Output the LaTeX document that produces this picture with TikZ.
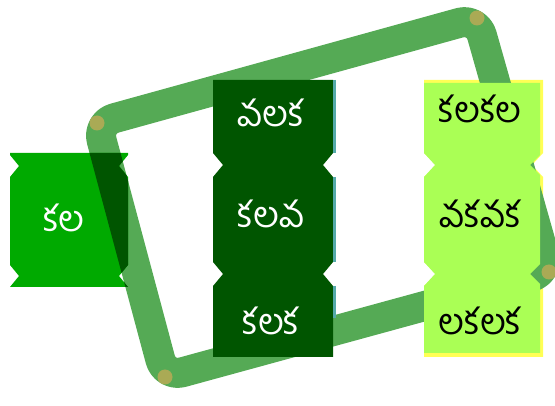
\documentclass[tikz,border=0pt]{standalone}
\usepackage{fontspec}
\newfontfamily\tel[Script=Telugu]{Hind Guntur}
\usetikzlibrary{calc}
\definecolor{loopgreen}{HTML}{55AA55}
\definecolor{dotolive}{HTML}{AAAA55}
\definecolor{leftgreen}{HTML}{00AA00}
\definecolor{darkgreen}{HTML}{005500}
\definecolor{limegreen}{HTML}{AAFF55}
\definecolor{edgeyellow}{HTML}{FFFF55}
\definecolor{edgeteal}{HTML}{55AAAA}
\newcommand\lnshape{(10,153) -- (128,153) -- (128,155) -- (119,166) -- (128,177) -- (128,265) -- (119,276) -- (128,287) -- (10,287) -- (19,276) -- (10,265) -- (10,177) -- (19,166) -- (10,155) -- cycle}
\begin{document}
\begin{tikzpicture}[x=1pt,y=-1pt,
  looppath/.style={line width=30pt, rounded corners=18pt, line join=round},
  cornerdot/.style={circle, fill=dotolive, inner sep=0pt, minimum size=15pt},
  txt/.style={font=\tel\fontsize{36}{40}\selectfont, inner sep=0pt, anchor=base},
]
\useasboundingbox (0,0) rectangle (555,406);
\coordinate (A) at (97,123);
\coordinate (B) at (477,18);
\coordinate (C) at (549,272);
\coordinate (D) at (165,377);
% yellow edge of right column (beneath the loop)
\fill[edgeyellow] (424,80) -- (543,80) -- (543,153) -- (532,165) -- (543,177) -- (543,262) -- (532,274) -- (543,286) -- (543,357) -- (424,357) -- (424,286) -- (437,274) -- (424,262) -- (424,177) -- (437,165) -- (424,153) -- cycle;
% loop
\draw[looppath, loopgreen] ($(A)!0.5!(B)$) -- (B) -- (C) -- (D) -- (A) -- cycle;
% left node
\fill[leftgreen] \lnshape;
\begin{scope}
  \clip \lnshape;
  \draw[looppath, darkgreen] ($(A)!0.5!(B)$) -- (B) -- (C) -- (D) -- (A) -- cycle;
\end{scope}
% middle column
\fill[darkgreen] (213,80) -- (333,80) -- (333,153) -- (323,165) -- (333,177) -- (333,262) -- (323,274) -- (333,286) -- (333,357) -- (213,357) -- (213,286) -- (223,274) -- (213,262) -- (213,177) -- (223,165) -- (213,153) -- cycle;
\draw[edgeteal, line width=3pt] (334.5,80) -- (334.5,153) (334.5,177) -- (334.5,262) (334.5,286) -- (334.5,318);
% right column
\fill[limegreen] (424,83) -- (540,83) -- (540,155) -- (530,165) -- (540,175) -- (540,264) -- (530,274) -- (540,284) -- (540,353) -- (424,353) -- (424,286) -- (435,274) -- (424,262) -- (424,177) -- (435,165) -- (424,153) -- cycle;
% dots
\node[cornerdot] (dA) at (A) {};
\node[cornerdot] (dB) at (B) {};
\node[cornerdot] (dC) at (C) {};
\node[cornerdot] (dD) at (D) {};
% texts
\node[txt, text=white] (l1) at (64,232) {కల};
\node[txt, text=white] (m1) at (271,127) {వలక};
\node[txt, text=white] (m2) at (271,228) {కలవ};
\node[txt, text=white] (m3) at (271,335) {కలక};
\node[txt, text=black] (r1) at (480,123) {కలకల};
\node[txt, text=black] (r2) at (480,228) {వకవక};
\node[txt, text=black] (r3) at (480,335) {లకలక};
\end{tikzpicture}
\end{document}
